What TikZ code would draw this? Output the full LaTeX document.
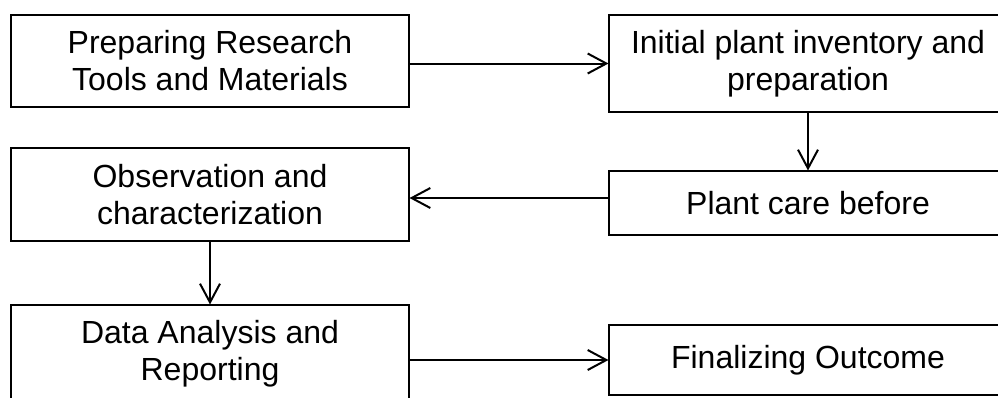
\documentclass[tikz,border=0pt]{standalone}
\usepackage{fontspec}
\setmainfont{Liberation Sans}
\usetikzlibrary{arrows.meta}

\begin{document}
\begin{tikzpicture}[x=0.75pt,y=-0.75pt,
  stepbox/.style={draw,line width=0.8pt,minimum width=298.5pt,inner sep=0pt,align=center,font=\fontsize{24}{27.75}\selectfont},
  flow/.style={-{Straight Barb[length=14pt,width=15pt,line width=1.5pt]},line width=1.5pt}]
  % Page frame, the right column and the last box run past it
  \useasboundingbox (0,0) rectangle (998,397);
  \clip (0,0) rectangle (998,397);
  % Left column
  \node[stepbox,minimum height=69pt] (prep) at (210,61) {Preparing Research\\Tools and Materials};
  \node[stepbox,minimum height=69.75pt] (obs) at (210,194.5) {Observation and\\characterization};
  \node[stepbox,minimum height=72.75pt] (data) at (210,353.5) {Data Analysis and\\Reporting};
  % Right column
  \node[stepbox,minimum height=72.75pt] (inv) at (808,63.5) {Initial plant inventory and\\preparation};
  \node[stepbox,minimum height=48pt] (care) at (808,203) {Plant care before};
  \node[stepbox,minimum height=52.5pt] (final) at (808,360) {Finalizing Outcome};
  % Connectors
  \draw[flow] (prep.east |- inv.west) -- (inv.west);
  \draw[flow] (inv.south) -- (care.north);
  \draw[flow] ([yshift=3.75pt]care.west) -- ([yshift=3.75pt]care.west -| obs.east);
  \draw[flow] (obs.south) -- (data.north);
  \draw[flow] (final.west -| data.east) -- (final.west);
\end{tikzpicture}
\end{document}
